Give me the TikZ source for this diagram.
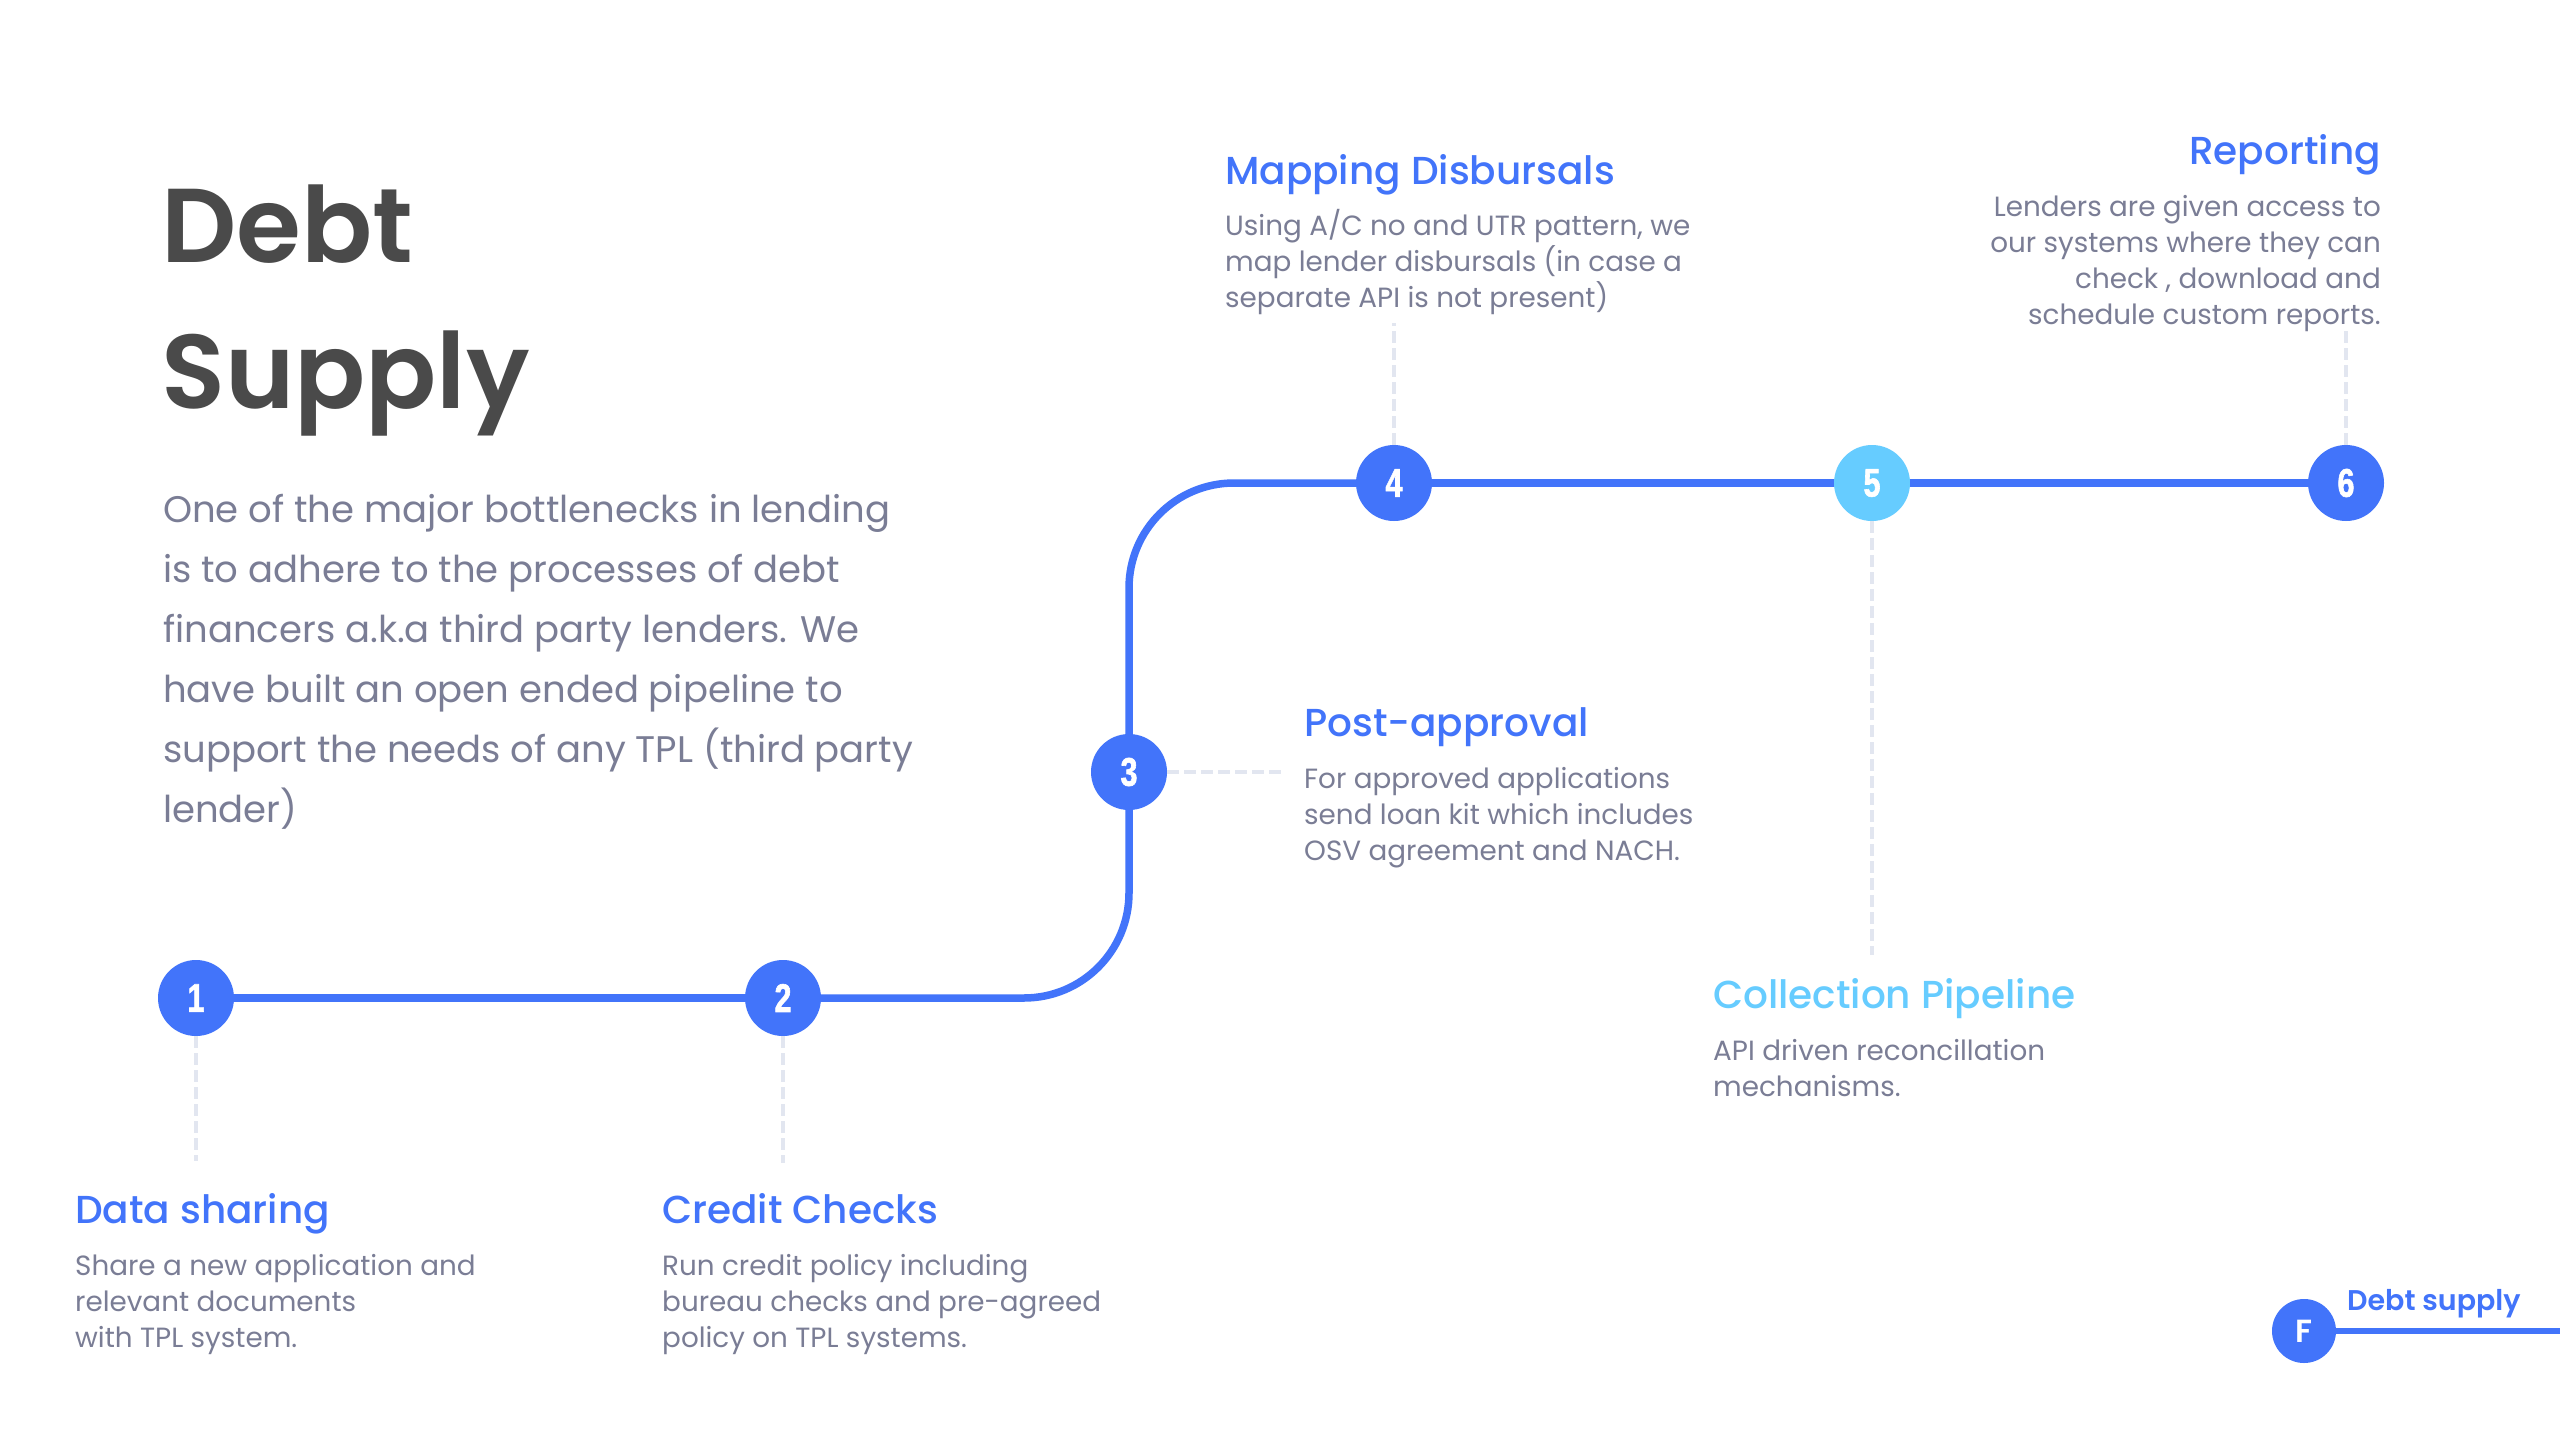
\documentclass[tikz,border=0pt]{standalone}
\usepackage{fontspec}
\setmainfont{Poppins}
\newfontfamily\semifont{Poppins SemiBold}
\newfontfamily\medfont{Poppins Medium}
\newfontfamily\numfont[FakeStretch=0.76,FakeBold=1.5]{Liberation Sans Bold}
\definecolor{mainblue}{HTML}{4274FA}
\definecolor{lightblue}{HTML}{66CCFF}
\definecolor{guidegray}{HTML}{E2E6F0}
\definecolor{bodygray}{HTML}{7A7D95}
\definecolor{titlegray}{HTML}{4A4A4A}
\tikzset{
  pipe/.style={draw=mainblue, line width=7.5pt},
  stepdot/.style={circle, fill=mainblue, minimum size=76pt, inner sep=0pt, text=white,
    font=\numfont\fontsize{40}{40}\selectfont},
  guide/.style={draw=guidegray, line width=3.5pt, dash pattern=on 12pt off 5pt},
  headtxt/.style={inner sep=0pt, anchor=base west, text=mainblue, font=\medfont\fontsize{39}{42}\selectfont},
  desctxt/.style={inner sep=0pt, anchor=base west, text=bodygray, align=left, font=\fontsize{27.8}{36}\selectfont},
}
% note: anchor=base of a multi-line node is the baseline of its last line
\begin{document}
\begin{tikzpicture}[x=1pt,y=-1pt]
\useasboundingbox[fill=white] (0,0) rectangle (2560,1440);
% title and intro
\node[inner sep=0pt, anchor=base west, text=titlegray, align=left,
  font=\semifont\fontsize{105}{146}\selectfont] (title) at (161,408) {Debt\\Supply};
\node[inner sep=0pt, anchor=base west, text=bodygray, align=left,
  font=\fontsize{37}{60}\selectfont] (intro) at (163,822)
  {One of the major bottlenecks in lending\\is to adhere to the processes of debt\\financers a.k.a third party lenders. We\\have built an open ended pipeline to\\support the needs of any TPL (third party\\lender)};
% step circles
\node[stepdot] (c1) at (196,998) {1};
\node[stepdot] (c2) at (783,998) {2};
\node[stepdot] (c3) at (1129,772) {3};
\node[stepdot] (c4) at (1394,483) {4};
\node[stepdot, fill=lightblue] (c5) at (1872,483) {5};
\node[stepdot] (c6) at (2346,483) {6};
% pipeline
\draw[pipe] (c1) -- (c2);
\draw[pipe, rounded corners=105pt] (c2) -| (c3);
\draw[pipe, rounded corners=105pt] (c3) |- (c4);
\draw[pipe] (c4) -- (c5);
\draw[pipe] (c5) -- (c6);
% guides
\coordinate (g1) at (196,1161);
\coordinate (g2) at (783,1163);
\coordinate (g3) at (1282,772);
\coordinate (g4) at (1394,323);
\coordinate (g5) at (1872,955);
\coordinate (g6) at (2346,327);
\draw[guide] (c1.south) -- (g1);
\draw[guide] (c2.south) -- (g2);
\draw[guide] (c3.east) -- (g3);
\draw[guide] (c4.north) -- (g4);
\draw[guide] (c5.south) -- (g5);
\draw[guide] (c6.north) -- (g6);
% labels
\node[headtxt] (h1) at (75,1223) {Data sharing};
\node[desctxt] (d1) at (75,1347) {Share a new application and\\relevant documents\\with TPL system.};
\node[headtxt] (h2) at (662,1223) {Credit Checks};
\node[desctxt] (d2) at (662,1347) {Run credit policy including\\bureau checks and pre-agreed\\policy on TPL systems.};
\node[headtxt] (h3) at (1304,736) {Post-approval};
\node[desctxt] (d3) at (1304,860) {For approved applications\\send loan kit which includes\\OSV agreement and NACH.};
\node[headtxt] (h4) at (1225,184) {Mapping Disbursals};
\node[desctxt] (d4) at (1225,307) {Using A/C no and UTR pattern, we\\map lender disbursals (in case a\\separate API is not present)};
\node[headtxt, text=lightblue] (h5) at (1713,1008) {Collection Pipeline};
\node[desctxt] (d5) at (1713,1096) {API driven reconcillation\\mechanisms.};
\node[headtxt, anchor=base east] (h6) at (2381,164) {Reporting};
\node[desctxt, anchor=base east, align=right] (d6) at (2381,324) {Lenders are given access to\\our systems where they can\\check , download and\\schedule custom reports.};
% footer
\node[circle, fill=mainblue, minimum size=64pt, inner sep=0pt, text=white,
  font=\semifont\fontsize{32}{32}\selectfont] (fdot) at (2304,1331) {F};
\coordinate (fend) at (2560,1331);
\draw[draw=mainblue, line width=6pt] (fdot) -- (fend);
\node[inner sep=0pt, anchor=base west, text=mainblue, font=\semifont\fontsize{28.5}{30}\selectfont] (ftext) at (2347,1310) {Debt supply};
\end{tikzpicture}
\end{document}
